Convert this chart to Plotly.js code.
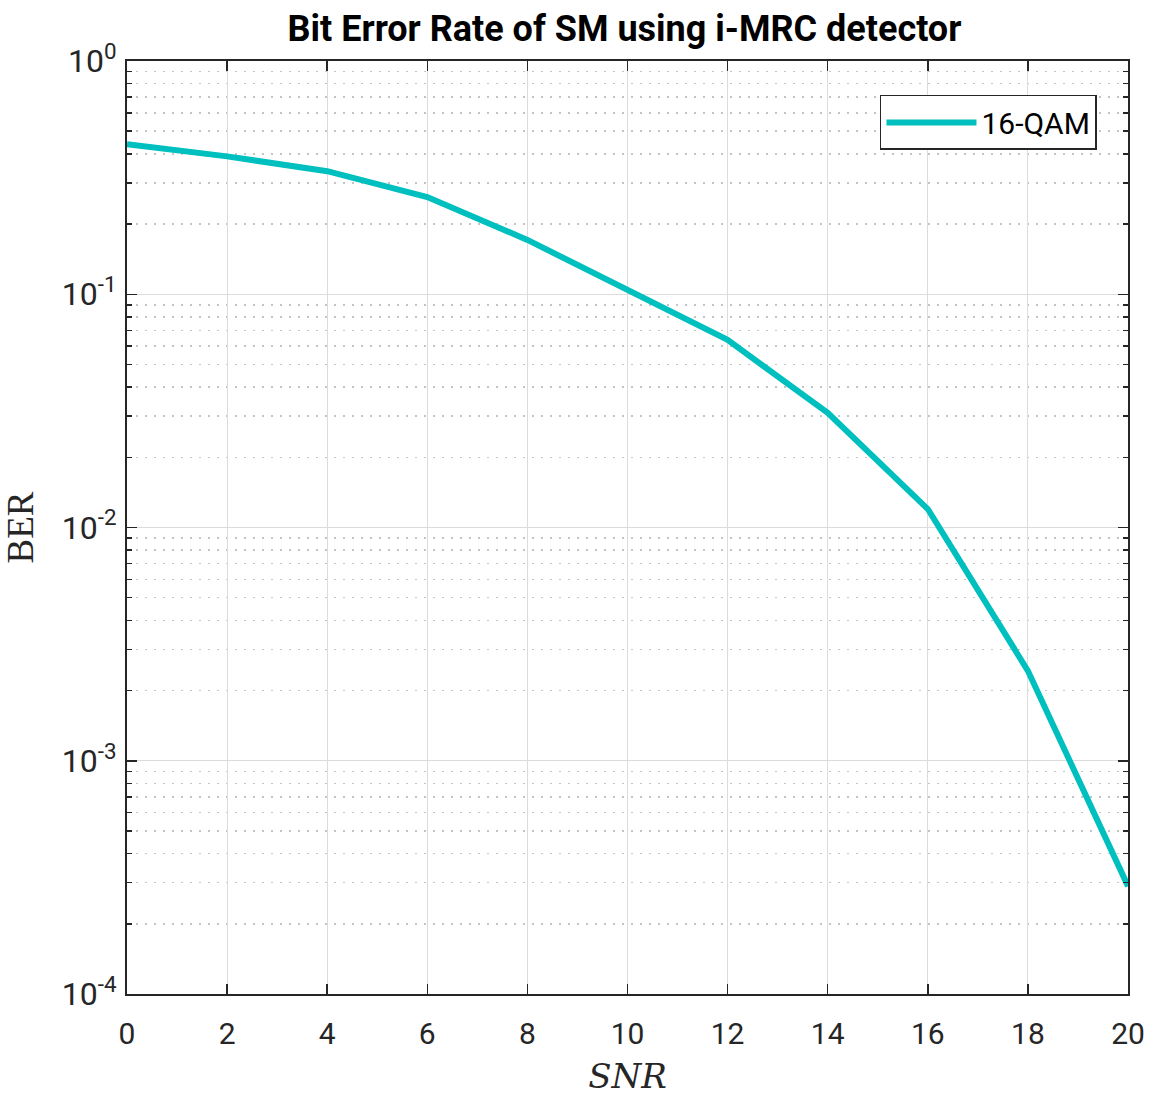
<!DOCTYPE html>
<html><head><meta charset="utf-8">
<script src="https://cdn.plot.ly/plotly-3.0.1.min.js"></script>
<style>body{margin:0;background:#fff}#chart{width:1149px;height:1099px}</style>
</head><body><div id="chart"></div>
<script>
const snr = [0, 2, 4, 6, 8, 10, 12, 14, 16, 18, 20];
const ber16qam = [0.44, 0.39, 0.337, 0.261, 0.171, 0.105, 0.0637, 0.031, 0.012, 0.00243, 0.00029];
const yTickVals = [1e-4, 1e-3, 1e-2, 1e-1, 1];
const yTickText = ['10<sup>-4</sup>', '10<sup>-3</sup>', '10<sup>-2</sup>', '10<sup>-1</sup>', '10<sup>0</sup>'];
const xTickVals = [0, 2, 4, 6, 8, 10, 12, 14, 16, 18, 20];
const minorDigits = [2, 3, 4, 5, 6, 7, 8, 9];
const decades = [1e-4, 1e-3, 1e-2, 1e-1];
const yMinorVals = [];
decades.forEach(d => minorDigits.forEach(m => yMinorVals.push(m * d)));

const axisColor = '#262626';
const sans = 'Roboto, Arial, sans-serif';
const trace = {
  x: snr, y: ber16qam, type: 'scatter', mode: 'lines', name: '16-QAM',
  line: {color: '#00BFBF', width: 6}
};
const layout = {
  width: 1149, height: 1099,
  margin: {l: 127, r: 21, t: 61, b: 105},
  paper_bgcolor: '#fff', plot_bgcolor: '#fff',
  title: {text: '<b>Bit Error Rate of SM using i-MRC detector</b>', x: 0.5435, xanchor: 'center', y: 0.986, yanchor: 'top',
    font: {family: sans, size: 36, color: '#000'}},
  xaxis: {
    range: [0, 20], tickvals: xTickVals, ticks: 'inside', ticklen: 10, tickwidth: 1.5, tickcolor: axisColor,
    showline: true, linecolor: axisColor, linewidth: 2, mirror: 'ticks',
    showgrid: true, gridcolor: '#dcdcdc', gridwidth: 1, zeroline: false,
    ticklabelstandoff: 12,
    tickfont: {family: sans, size: 30, color: '#262626'},
    title: {text: '<i>SNR</i>', font: {family: '"DejaVu Serif", "Liberation Serif", serif', size: 34, color: '#262626'}, standoff: 14}
  },
  yaxis: {
    type: 'log', range: [-4, 0], tickvals: yTickVals, ticktext: yTickText,
    ticks: 'inside', ticklen: 10, tickwidth: 1.5, tickcolor: axisColor,
    showline: true, linecolor: axisColor, linewidth: 2, mirror: 'ticks',
    showgrid: true, gridcolor: '#dcdcdc', gridwidth: 1, zeroline: false,
    ticklabelstandoff: 2,
    tickfont: {family: sans, size: 32, color: '#262626'},
    title: {text: 'BER', font: {family: '"Liberation Serif", "DejaVu Serif", serif', size: 37, color: '#262626'}, standoff: 18},
    minor: {tickvals: yMinorVals, ticks: 'inside', ticklen: 5, tickwidth: 1.5, tickcolor: axisColor, showgrid: true,
      gridcolor: '#c4c4c4', griddash: '2px,7px', gridwidth: 1.5}
  },
  legend: {x: 0.969, xanchor: 'right', y: 0.9636, yanchor: 'top', bgcolor: '#fff',
    bordercolor: axisColor, borderwidth: 1.5, itemwidth: 90,
    font: {family: sans, size: 30, color: '#000'}},
  showlegend: true
};
Plotly.newPlot('chart', [trace], layout, {displayModeBar: false, staticPlot: true});
</script></body></html>
